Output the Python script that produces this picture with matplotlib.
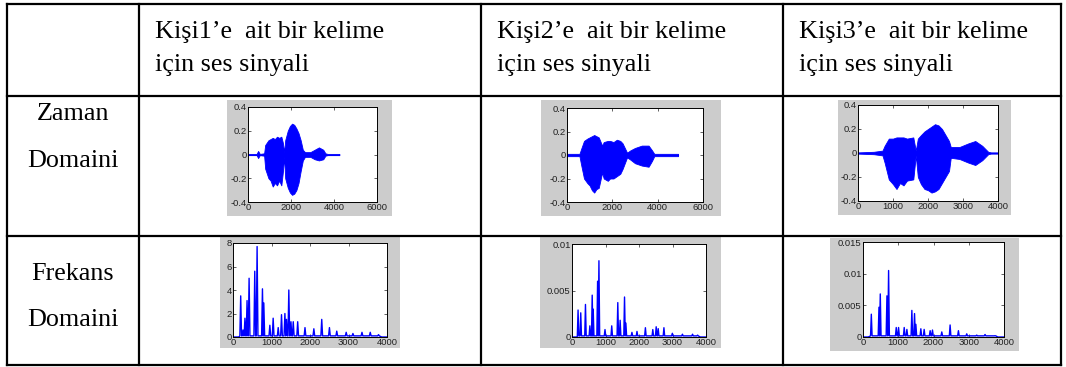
import matplotlib
matplotlib.use("Agg")
import matplotlib.pyplot as plt
from matplotlib.lines import Line2D
from matplotlib.patches import Rectangle

W, H = 1066, 367

# table text
headers = [["Kişi1’e  ait bir kelime", "için ses sinyali"],
           ["Kişi2’e  ait bir kelime", "için ses sinyali"],
           ["Kişi3’e  ait bir kelime", "için ses sinyali"]]
row_labels = [["Zaman", "Domaini"], ["Frekans", "Domaini"]]

# time domain: envelope of each signal (sample index, upper, lower)
t1 = [0, 400, 470, 550, 750, 800, 950, 1050, 1150, 1250, 1350, 1450, 1550, 1620, 1680, 1730, 1850, 1950, 2050, 2150, 2250, 2350, 2450, 2550, 2650, 2900, 3100, 3300, 3500, 3600, 3700, 4250]
up1 = [0.005, 0.005, 0.03, 0.005, 0.01, 0.08, 0.12, 0.13, 0.14, 0.13, 0.15, 0.14, 0.15, 0.1, 0.02, 0.12, 0.2, 0.24, 0.26, 0.25, 0.22, 0.18, 0.12, 0.04, 0.02, 0.02, 0.04, 0.06, 0.04, 0.01, 0.005, 0.005]
lo1 = [-0.005, -0.005, -0.03, -0.005, -0.01, -0.12, -0.2, -0.22, -0.27, -0.24, -0.26, -0.22, -0.26, -0.15, -0.02, -0.2, -0.28, -0.32, -0.34, -0.33, -0.3, -0.24, -0.14, -0.05, -0.02, -0.02, -0.04, -0.05, -0.04, -0.01, -0.005, -0.005]

t2 = [0, 550, 620, 750, 900, 1000, 1100, 1200, 1300, 1400, 1550, 1620, 1800, 1900, 2050, 2200, 2350, 2450, 2650, 2800, 3000, 3300, 3600, 3750, 3850, 4900]
up2 = [0.01, 0.01, 0.05, 0.12, 0.14, 0.15, 0.16, 0.17, 0.16, 0.15, 0.08, 0.11, 0.12, 0.12, 0.11, 0.13, 0.12, 0.1, 0.02, 0.04, 0.06, 0.08, 0.08, 0.04, 0.01, 0.01]
lo2 = [-0.01, -0.01, -0.08, -0.2, -0.24, -0.26, -0.3, -0.32, -0.29, -0.28, -0.15, -0.2, -0.22, -0.2, -0.2, -0.18, -0.16, -0.12, -0.02, -0.04, -0.07, -0.09, -0.1, -0.05, -0.01, -0.01]

t3 = [0, 450, 700, 760, 880, 1000, 1100, 1200, 1300, 1400, 1580, 1650, 1710, 1800, 1900, 2000, 2100, 2200, 2300, 2400, 2500, 2600, 2650, 2900, 3150, 3350, 3550, 3720, 3800, 4000]
up3 = [0.005, 0.01, 0.02, 0.06, 0.12, 0.12, 0.13, 0.13, 0.13, 0.12, 0.13, 0.02, 0.12, 0.15, 0.18, 0.2, 0.22, 0.24, 0.23, 0.2, 0.15, 0.1, 0.05, 0.05, 0.08, 0.1, 0.06, 0.01, 0.005, 0.005]
lo3 = [-0.005, -0.01, -0.02, -0.08, -0.22, -0.26, -0.3, -0.25, -0.27, -0.23, -0.22, -0.02, -0.2, -0.26, -0.3, -0.31, -0.33, -0.32, -0.3, -0.25, -0.2, -0.15, -0.04, -0.05, -0.08, -0.1, -0.06, -0.01, -0.005, -0.005]

# frequency domain: spectral peaks (Hz, magnitude)
f1 = [200, 260, 310, 365, 418, 565, 626, 765, 800, 957, 1043, 1174, 1260, 1348, 1390, 1450, 1505, 1565, 1680, 1870, 2100, 2305, 2505, 2695, 2940, 3115, 3350, 3565, 3780]
a1 = [3.5, 0.6, 1.6, 3.1, 5.0, 5.6, 7.7, 4.1, 2.9, 1.0, 1.6, 0.8, 1.9, 2.0, 1.5, 4.0, 1.3, 1.3, 1.3, 0.8, 0.7, 1.5, 0.8, 0.5, 0.4, 0.3, 0.4, 0.4, 0.2]
f2 = [181, 261, 402, 533, 603, 633, 764, 804, 985, 1186, 1367, 1437, 1568, 1608, 1789, 1940, 2191, 2412, 2513, 2573, 2744, 2995, 3296, 3598, 3749]
a2 = [0.0029, 0.0026, 0.0035, 0.0012, 0.0045, 0.003, 0.006, 0.0082, 0.0008, 0.0012, 0.0037, 0.0018, 0.0043, 0.0015, 0.0005, 0.0006, 0.001, 0.0008, 0.0011, 0.0009, 0.001, 0.0004, 0.0003, 0.0003, 0.0002]
f3 = [236, 453, 490, 679, 726, 943, 1009, 1169, 1245, 1386, 1462, 1500, 1641, 1735, 1905, 1971, 2235, 2471, 2707, 2943, 3226, 3462, 3745]
a3 = [0.0036, 0.0047, 0.0068, 0.0065, 0.0105, 0.0015, 0.0015, 0.0015, 0.0012, 0.0042, 0.0037, 0.002, 0.0013, 0.0012, 0.001, 0.0011, 0.0008, 0.0019, 0.001, 0.0005, 0.0003, 0.0004, 0.0002]

time_data = [(t1, up1, lo1), (t2, up2, lo2), (t3, up3, lo3)]
time_xlim = [6000, 6000, 4000]
time_xticks = [[0, 2000, 4000, 6000], [0, 2000, 4000, 6000], [0, 1000, 2000, 3000, 4000]]
freq_data = [(f1, a1), (f2, a2), (f3, a3)]
freq_ylim = [8, 0.01, 0.015]
freq_yticks = [[0, 2, 4, 6, 8], [0, 0.005, 0.01], [0, 0.005, 0.01, 0.015]]

# pixel boxes (left, top, right, bottom)
time_gray = [(227, 100, 392, 216), (541, 100, 721, 216), (838, 100, 1011, 215)]
time_axes = [(248, 107, 377, 202), (567, 108, 703, 202), (858, 105, 998, 201)]
freq_gray = [(220, 236, 400, 348), (540, 237, 721, 348), (830, 238, 1019, 351)]
freq_axes = [(233, 243, 387, 337), (572, 244, 706, 337), (863, 242, 1004, 337)]

fig = plt.figure(figsize=(W / 100, H / 100), dpi=100)


def fx(x):
    return x / W


def fy(y):
    return 1 - y / H


def gray_box(box):
    l, t, r, b = box
    fig.add_artist(Rectangle((fx(l), fy(b)), fx(r - l), (b - t) / H,
                             transform=fig.transFigure, facecolor="#cccccc",
                             edgecolor="none", zorder=-5))


def small_axes(box):
    l, t, r, b = box
    ax = fig.add_axes([fx(l), fy(b), fx(r - l), (b - t) / H])
    ax.set_facecolor("white")
    ax.set_zorder(2)
    ax.tick_params(direction="in", length=2, width=0.5, labelsize=6.8, pad=1,
                   top=True, right=True, colors="#222222")
    for s in ax.spines.values():
        s.set_linewidth(0.7)
    return ax


def fmt(v):
    return "%g" % v


def set_ticks(ax, xt, yt, ylabels):
    ax.set_xticks(xt)
    ax.set_xticklabels([fmt(v) for v in xt], family="Liberation Sans")
    ax.set_yticks(yt)
    ax.set_yticklabels(ylabels, family="Liberation Sans")


for i in range(3):
    gray_box(time_gray[i])
    ax = small_axes(time_axes[i])
    t, up, lo = time_data[i]
    ax.fill_between(t, lo, up, color="blue", linewidth=0.6)
    ax.plot(t, [0] * len(t), color="blue", linewidth=0.8)
    ax.set_xlim(0, time_xlim[i])
    ax.set_ylim(-0.4, 0.4)
    set_ticks(ax, time_xticks[i], [-0.4, -0.2, 0, 0.2, 0.4], ["-0.4", "-0.2", "0", "0.2", "0.4"])

for i in range(3):
    gray_box(freq_gray[i])
    ax = small_axes(freq_axes[i])
    f, a = freq_data[i]
    base = freq_ylim[i] * 0.012
    xs = [0, 150]
    ys = [0, 0]
    for fr, am in zip(f, a):
        xs += [fr - 22, fr, fr + 22]
        ys += [base, am, base]
    xs += [f[-1] + 80, 4000]
    ys += [0, 0]
    ax.plot(xs, ys, color="blue", linewidth=1.0)
    ax.set_xlim(0, 4000)
    ax.set_ylim(0, freq_ylim[i])
    set_ticks(ax, [0, 1000, 2000, 3000, 4000], freq_yticks[i], [fmt(v) for v in freq_yticks[i]])

# table grid
xs_lines = [7, 139, 481, 783, 1061]
ys_lines = [4, 96, 236, 365]
for x in xs_lines:
    fig.add_artist(Line2D([fx(x), fx(x)], [fy(ys_lines[0]), fy(ys_lines[-1])],
                          transform=fig.transFigure, color="black", linewidth=1.6, zorder=5))
for y in ys_lines:
    fig.add_artist(Line2D([fx(xs_lines[0]), fx(xs_lines[-1])], [fy(y), fy(y)],
                          transform=fig.transFigure, color="black", linewidth=1.6, zorder=5))

serif = "Liberation Serif"
header_x = [155, 497, 799]
for i in range(3):
    fig.text(fx(header_x[i]), fy(38), headers[i][0], family=serif, fontsize=18.8, va="baseline")
    fig.text(fx(header_x[i]), fy(71), headers[i][1], family=serif, fontsize=18.8, va="baseline")

label_y = [[120, 167], [280, 326]]
for r in range(2):
    for k in range(2):
        fig.text(fx(73), fy(label_y[r][k]), row_labels[r][k], family=serif, fontsize=18.8,
                 ha="center", va="baseline")

fig.savefig("out.png", dpi=100)
